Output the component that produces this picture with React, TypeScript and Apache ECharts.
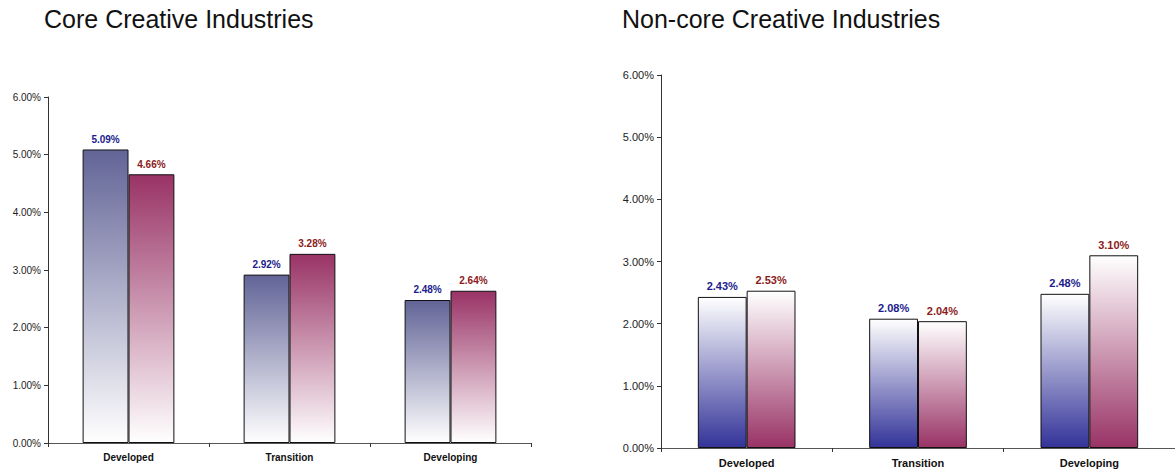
import React, { useEffect, useRef } from "react";
import * as echarts from "echarts";

const categories = ["Developed", "Transition", "Developing"];
const coreFirst = [5.09, 2.92, 2.48];
const coreSecond = [4.66, 3.28, 2.64];
const nonCoreFirst = [2.43, 2.08, 2.48];
const nonCoreSecond = [2.53, 2.04, 3.1];
const yTicks = { min: 0, max: 6, interval: 1 };

const FONT = "'Liberation Sans', Arial, sans-serif";
const BLUE_LABEL = "#1c1c8c";
const RED_LABEL = "#8c1a1a";

function grad(top: string, bottom: string) {
  return new echarts.graphic.LinearGradient(0, 0, 0, 1, [
    { offset: 0, color: top },
    { offset: 1, color: bottom },
  ]);
}

function barSeries(data: number[], idx: number, fill: any, labelColor: string, fs: number) {
  return {
    type: "bar",
    xAxisIndex: idx,
    yAxisIndex: idx,
    data,
    barGap: "0%",
    barCategoryGap: "43%",
    itemStyle: { color: fill, borderColor: "#111", borderWidth: 1 },
    label: {
      show: true,
      position: "top",
      distance: 5,
      formatter: (p: any) => p.value.toFixed(2) + "%",
      color: labelColor,
      fontFamily: FONT,
      fontWeight: "bold",
      fontSize: fs,
    },
  };
}

function xAxis(idx: number, fs: number) {
  return {
    type: "category",
    gridIndex: idx,
    data: categories,
    axisLine: { lineStyle: { color: "#555", width: 1 } },
    axisTick: { show: true, length: 4, lineStyle: { color: "#333" } },
    axisLabel: {
      color: "#111",
      fontFamily: FONT,
      fontWeight: "bold",
      fontSize: fs,
      margin: 9,
    },
  };
}

function yAxis(idx: number, fs: number) {
  return {
    type: "value",
    gridIndex: idx,
    ...yTicks,
    splitLine: { show: false },
    axisLine: { show: true, lineStyle: { color: "#333", width: 1 } },
    axisTick: { show: true, length: 4, lineStyle: { color: "#333" } },
    axisLabel: {
      color: "#222",
      fontFamily: FONT,
      fontSize: fs,
      margin: 7,
      formatter: (v: number) => v.toFixed(2) + "%",
    },
  };
}

const titleStyle = { fontFamily: FONT, fontSize: 25, fontWeight: "normal", color: "#111" };

export default function App() {
  const ref = useRef<HTMLDivElement>(null);
  useEffect(() => {
    if (!ref.current) return;
    const chart = echarts.init(ref.current, undefined, { renderer: "svg" });
    chart.setOption({
      animation: false,
      backgroundColor: "#fff",
      title: [
        { text: "Core Creative Industries", left: 44, top: 6, padding: 0, textStyle: titleStyle },
        { text: "Non-core Creative Industries", left: 622, top: 6, padding: 0, textStyle: titleStyle },
      ],
      grid: [
        { left: 48, top: 97, width: 483, height: 346 },
        { left: 661, top: 75, width: 519, height: 373 },
      ],
      xAxis: [xAxis(0, 10), xAxis(1, 11)],
      yAxis: [yAxis(0, 10), yAxis(1, 11)],
      series: [
        barSeries(coreFirst, 0, grad("#626497", "#ffffff"), BLUE_LABEL, 10),
        barSeries(coreSecond, 0, grad("#993366", "#ffffff"), RED_LABEL, 10),
        barSeries(nonCoreFirst, 1, grad("#ffffff", "#333399"), BLUE_LABEL, 11),
        barSeries(nonCoreSecond, 1, grad("#ffffff", "#993366"), RED_LABEL, 11),
      ],
    });
    return () => chart.dispose();
  }, []);
  return (
    <div
      ref={ref}
      style={{ position: "absolute", left: 0, top: 0, width: 1175, height: 469 }}
    />
  );
}
